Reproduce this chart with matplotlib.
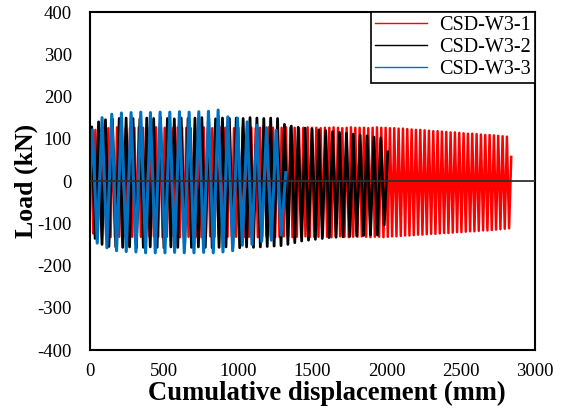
import matplotlib.pyplot as plt
import numpy as np

plt.rcParams['font.family'] = 'Liberation Serif'
plt.rcParams['axes.unicode_minus'] = False

# displacement amplitude of the loading cycles (mm)
amp_w31 = 7.3
amp_w32 = 11.6
amp_w33 = 16.3

# peak loads of each cycle (kN)
w31_pos = [116, 121, 124,
           126, 125, 126, 127, 126, 125, 126, 126, 127, 126,
           125, 126, 127, 126, 126, 125, 126, 127, 126, 126,
           125, 126, 126, 127, 126, 125, 126, 127, 126, 126,
           125, 126, 127, 126, 126, 125, 126, 126, 127, 126,
           125, 126, 127, 126, 126, 125, 126, 127, 126, 126,
           125, 126, 126, 127, 126, 125, 126, 127, 126, 126,
           126, 125, 126, 127, 126, 126, 125,
           125, 124, 124, 123, 122, 121, 121, 120, 119, 118,
           118, 117, 116, 115, 115, 114, 113, 112, 112, 111,
           110, 109, 109, 108, 107, 106, 105]
w31_neg = [-124, -129,
           -132, -131, -133, -132, -132, -131, -133, -132, -131, -132,
           -133, -132, -131, -132, -133, -132, -132, -131, -133, -132,
           -132, -131, -132, -133, -132, -131, -132, -133, -132, -132,
           -131, -132, -133, -132, -132, -131, -133, -132, -131, -132,
           -133, -132, -131, -132, -133, -132, -132, -131, -133, -132,
           -132, -131, -132, -133, -132, -131, -132, -133, -132, -132,
           -131, -132, -133, -132, -132, -133,
           -132, -131, -131, -130, -129, -129, -128, -127, -127, -126,
           -125, -125, -124, -123, -123, -122, -121, -121, -120, -119,
           -119, -118, -117, -117, -116, -115, -114, -113, -112]
w31_end = 57

w32_pos = [128, 140, 145,
           147, 148, 149, 148, 147, 149, 148, 150, 148, 147,
           149, 148, 149, 150, 148, 147, 149, 148, 149, 148,
           150, 149, 148, 149, 148,
           134, 130, 127, 125, 123, 121, 119, 117, 115, 113,
           111, 109, 107, 104, 102]
w32_neg = [-136, -150, -155,
           -156, -157, -156, -158, -157, -156, -157, -158, -156, -157,
           -158, -157, -156, -157, -158, -157, -156, -157, -158, -156,
           -157, -156, -155, -154, -153,
           -150, -146, -142, -140, -138, -136, -134, -133, -132, -131,
           -130, -129, -128, -128,
           -104]
w32_end = 69

w33_pos = [121, 150, 158, 161, 162, 163, 162, 163, 163, 164,
           163, 164, 165, 168, 152, 149, 140, 132, 126, 120]
w33_neg = [-147, -158, -165, -167, -168, -170, -170, -170, -169, -170,
           -170, -169, -170, -168, -165, -152, -150, -143, -140, -128]
w33_end = 20


def build_curve(amp, pos, neg, end):
    disp = [0.0]
    load = [0.0]
    for p, q in zip(pos, neg):
        disp += [amp, -amp]
        load += [p, q]
    disp.append(amp)
    load.append(end)
    cum = np.concatenate([[0.0], np.cumsum(np.abs(np.diff(disp)))])
    return cum, np.array(load, dtype=float)


x1, y1 = build_curve(amp_w31, w31_pos, w31_neg, w31_end)
x2, y2 = build_curve(amp_w32, w32_pos, w32_neg, w32_end)
x3, y3 = build_curve(amp_w33, w33_pos, w33_neg, w33_end)

fig = plt.figure(figsize=(5.67, 4.11), dpi=100)
ax = fig.add_axes([0.1587, 0.1484, 0.7849, 0.8224])

ax.plot(x1, y1, color='#ff0000', lw=1.8, label='CSD-W3-1')
ax.plot(x2, y2, color='black', lw=2.0, label='CSD-W3-2')
ax.plot(x3, y3, color='#0070c0', lw=2.2, label='CSD-W3-3')
ax.axhline(0, color='#303030', lw=1.3, zorder=3)

ax.set_xlim(0, 3000)
ax.set_ylim(-400, 400)
ax.set_xticks(np.arange(0, 3001, 500))
ax.set_yticks(np.arange(-400, 401, 100))
ax.tick_params(axis='both', length=0, labelsize=13.5)
ax.tick_params(axis='x', pad=9)
ax.tick_params(axis='y', pad=13)
for sp in ax.spines.values():
    sp.set_linewidth(1.5)
    sp.set_color('black')

ax.set_xlabel('Cumulative displacement (mm)', fontsize=19.2, fontweight='bold')
ax.xaxis.set_label_coords(0.533, -0.092)
ax.set_ylabel('Load (kN)', fontsize=18.5, fontweight='bold')
ax.yaxis.set_label_coords(-0.117, 0.5)

leg = ax.legend(loc='upper right', bbox_to_anchor=(1, 1), borderaxespad=0,
                fontsize=14.5, fancybox=False, edgecolor='black', framealpha=1,
                handlelength=2.6, handletextpad=0.6, labelspacing=0.15,
                borderpad=0.2)
leg.get_frame().set_linewidth(1.2)
for h in leg.get_lines():
    h.set_linewidth(1.0)

fig.savefig('out.png', dpi=100)
plt.close(fig)
